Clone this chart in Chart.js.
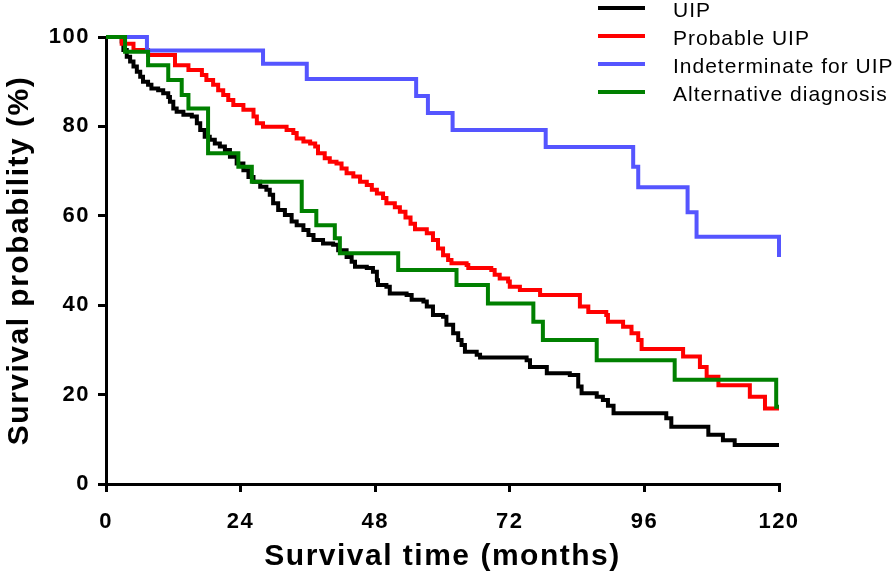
<!DOCTYPE html>
<html>
<head>
<meta charset="utf-8">
<script src="https://cdn.jsdelivr.net/npm/chart.js@4/dist/chart.umd.min.js"></script>
<style>
  html, body { margin: 0; padding: 0; background: #fff; }
  #wrap { position: relative; width: 896px; height: 579px; }
  #c { position: absolute; left: 0; top: 0; }
  .lg { position: absolute; left: 0; top: 0; font-family: "Liberation Sans", Arial, sans-serif; font-size: 21px; letter-spacing: 1px; color: #000; }
  .lg .row { position: absolute; left: 598px; height: 4px; width: 47px; }
  .lg .txt { position: absolute; left: 673px; white-space: nowrap; line-height: 22px; }
</style>
</head>
<body>
<div id="wrap">
  <canvas id="c" width="896" height="579"></canvas>
  <div class="lg" id="legend"></div>
</div>
<script>
// ---- Data ----
const seriesNames = ["UIP", "Probable UIP", "Indeterminate for UIP", "Alternative diagnosis"];
const seriesColors = ["#000000", "#ff0000", "#5555ff", "#008000"];

const xTicks = [0, 24, 48, 72, 96, 120];
const yTicks = [0, 20, 40, 60, 80, 100];

const uipTime = [0, 2.8, 3.1, 3.7, 4.3, 4.9, 5.5, 6.1, 6.6, 7.5, 8.1, 9.3, 10.2, 11.1, 11.4, 12.0, 12.6, 13.8, 15.3, 16.2, 16.8, 17.6, 18.5, 19.4, 20.3, 21.2, 22.1, 23.3, 24.5, 25.4, 26.3, 27.5, 28.6, 29.2, 29.8, 30.7, 31.9, 33.1, 34.0, 35.2, 36.1, 37.0, 38.7, 40.5, 41.4, 42.9, 43.8, 44.4, 46.5, 47.6, 48.3, 48.5, 50.0, 50.6, 53.6, 54.5, 56.6, 57.2, 58.3, 60.1, 60.7, 61.9, 62.8, 63.4, 64.0, 66.1, 66.7, 75.0, 75.6, 78.6, 82.7, 84.2, 84.8, 87.5, 88.6, 89.5, 90.5, 99.9, 100.8, 107.4, 110.0, 112.1, 120];
const uipSurv = [100, 99.0, 97.1, 95.6, 94.5, 93.4, 92.2, 91.1, 90.0, 89.3, 88.5, 88.1, 87.4, 86.6, 85.5, 84.0, 83.3, 82.6, 82.2, 80.7, 79.2, 77.7, 77.0, 76.2, 75.5, 74.7, 73.2, 71.7, 70.2, 68.7, 67.6, 66.5, 65.8, 64.7, 62.8, 61.3, 60.2, 58.7, 57.9, 56.8, 55.7, 54.6, 53.8, 53.5, 52.3, 50.8, 49.7, 48.6, 48.3, 47.5, 45.6, 44.5, 44.1, 42.6, 42.3, 41.2, 40.8, 39.7, 37.8, 37.4, 35.6, 33.7, 32.2, 31.1, 29.6, 28.9, 28.3, 27.7, 26.2, 24.8, 24.4, 21.8, 20.3, 19.5, 18.8, 17.5, 15.8, 14.7, 12.8, 11.0, 9.8, 8.7, 8.7];

const probTime = [0, 2.8, 4.9, 7.5, 12.3, 14.7, 17.1, 17.9, 19.1, 20.0, 20.9, 21.8, 22.7, 24.5, 26.3, 26.9, 28.0, 32.2, 33.4, 34.0, 35.2, 36.4, 37.3, 37.8, 39.0, 39.9, 41.1, 42.0, 42.9, 44.1, 45.3, 46.5, 47.4, 48.3, 49.4, 50.0, 51.5, 52.4, 53.4, 54.3, 55.1, 57.2, 58.3, 59.2, 60.1, 61.0, 61.6, 64.3, 64.6, 68.7, 69.3, 70.2, 71.7, 72.0, 73.8, 77.4, 84.5, 86.0, 89.2, 89.5, 92.2, 93.7, 94.9, 95.5, 102.9, 105.9, 107.1, 109.2, 114.8, 117.5, 120];
const probSurv = [100, 98.5, 97.1, 96.0, 93.7, 92.6, 91.5, 90.4, 89.3, 88.1, 87.0, 85.9, 84.8, 83.7, 82.2, 80.7, 79.9, 79.2, 78.5, 77.3, 76.6, 76.2, 75.5, 74.0, 72.9, 72.1, 71.7, 70.6, 69.5, 68.8, 67.6, 66.9, 65.8, 65.0, 64.0, 62.8, 61.9, 60.9, 59.6, 58.2, 57.0, 56.1, 54.6, 52.7, 51.2, 50.1, 49.4, 49.0, 48.3, 47.9, 46.8, 46.0, 45.3, 44.1, 43.4, 42.3, 39.7, 38.5, 37.8, 36.3, 35.2, 33.7, 32.2, 30.2, 28.5, 26.2, 24.0, 22.1, 19.5, 16.9, 16.9];

const indetTime = [0, 7.3, 28.0, 35.8, 55.3, 57.4, 61.8, 78.4, 94.0, 94.9, 103.7, 105.3, 120];
const indetSurv = [100, 97.0, 94.0, 90.6, 86.8, 83.0, 79.2, 75.4, 71.0, 66.4, 60.8, 55.3, 50.8];

const altTime = [0, 3.4, 7.5, 11.1, 13.5, 14.7, 18.2, 23.6, 26.0, 34.9, 37.5, 40.8, 41.7, 52.1, 62.5, 68.1, 76.2, 77.9, 87.5, 101.4, 119.5, 120];
const altSurv = [100, 96.7, 93.7, 90.4, 87.0, 84.0, 74.0, 71.0, 67.6, 61.1, 57.9, 55.0, 51.6, 47.9, 44.5, 40.4, 36.3, 32.2, 27.7, 23.3, 17.3, 17.3];

// ---- Build ----
const seriesTimes = [uipTime, probTime, indetTime, altTime];
const seriesSurv = [uipSurv, probSurv, indetSurv, altSurv];

function toPoints(t, s) { return t.map((x, i) => ({ x: x, y: s[i] })); }

const datasets = seriesNames.map((name, i) => ({
  label: name,
  data: toPoints(seriesTimes[i], seriesSurv[i]),
  borderColor: seriesColors[i],
  backgroundColor: seriesColors[i],
  borderWidth: 4,
  stepped: 'before',
  pointRadius: 0,
  fill: false,
  order: seriesNames.length - i,
  clip: 4
}));

// HTML legend
const legendEl = document.getElementById('legend');
const legendRowY = [8, 36, 64, 92];
seriesNames.forEach((name, i) => {
  const ln = document.createElement('div');
  ln.className = 'row';
  ln.style.top = (legendRowY[i] - 2) + 'px';
  ln.style.background = seriesColors[i];
  legendEl.appendChild(ln);
  const tx = document.createElement('div');
  tx.className = 'txt';
  tx.style.top = (legendRowY[i] - 11 + 2) + 'px';
  tx.textContent = name;
  legendEl.appendChild(tx);
});

const spacingPlugin = {
  id: 'spacing',
  beforeDraw(chart) { chart.ctx.letterSpacing = '1.5px'; }
};

const tickFont = { family: "'Liberation Sans', Arial, sans-serif", size: 22, weight: 'bold' };
const titleFont = { family: "'Liberation Sans', Arial, sans-serif", size: 30, weight: 'bold', lineHeight: 1.2 };

new Chart(document.getElementById('c'), {
  type: 'line',
  data: { datasets: datasets },
  plugins: [spacingPlugin],
  options: {
    responsive: false,
    animation: false,
    events: [],
    layout: { padding: { left: 0, right: 117, top: 37, bottom: 0 } },
    plugins: { legend: { display: false }, tooltip: { enabled: false } },
    scales: {
      x: {
        type: 'linear',
        min: 0, max: 120,
        afterBuildTicks(scale) { scale.ticks = xTicks.map(v => ({ value: v })); },
        afterFit(scale) { scale.height = 95; },
        grid: { drawOnChartArea: false, drawTicks: true, tickLength: 8, tickWidth: 3, tickColor: '#000', color: '#000', lineWidth: 3 },
        border: { display: true, color: '#000', width: 3 },
        ticks: { color: '#000', font: tickFont, padding: 17, maxRotation: 0, autoSkip: false },
        title: { display: true, text: 'Survival time (months)', color: '#000', font: titleFont, padding: { top: 0, bottom: 4 } }
      },
      y: {
        type: 'linear',
        min: 0, max: 100,
        afterBuildTicks(scale) { scale.ticks = yTicks.map(v => ({ value: v })); },
        afterFit(scale) { scale.width = 106; },
        grid: { drawOnChartArea: false, drawTicks: true, tickLength: 8, tickWidth: 3, tickColor: '#000', color: '#000', lineWidth: 3 },
        border: { display: true, color: '#000', width: 3 },
        ticks: { color: '#000', font: tickFont, padding: 8, autoSkip: false },
        title: { display: true, text: 'Survival probability (%)', color: '#000', font: titleFont, padding: { top: 2, bottom: 0 } }
      }
    }
  }
});
</script>
</body>
</html>
